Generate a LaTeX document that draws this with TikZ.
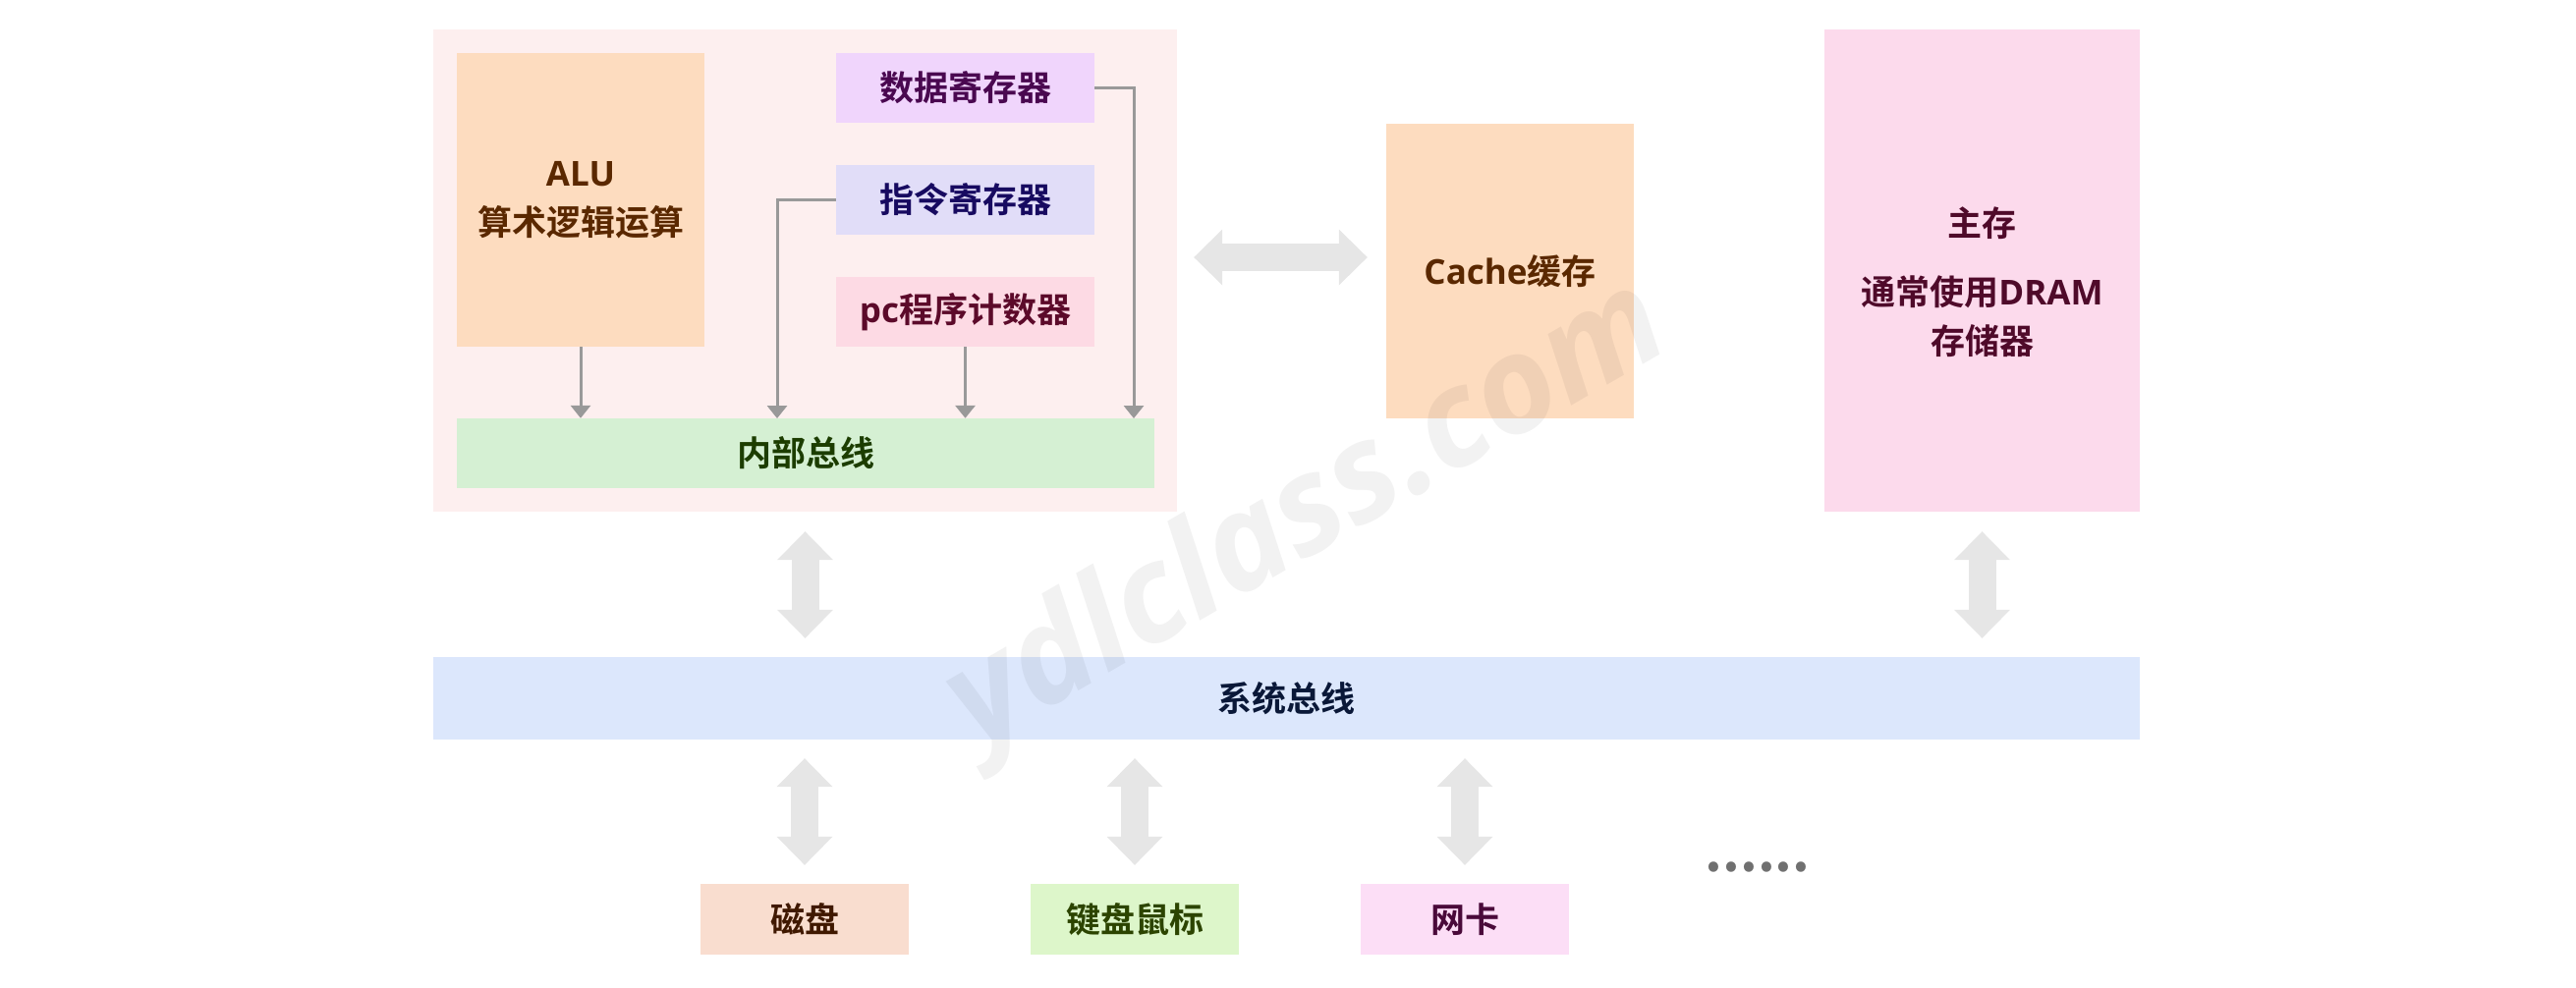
\documentclass[tikz,border=0pt]{standalone}
\usepackage{fontspec}
\usepackage{tikz}
\usepackage{xcolor}
\usetikzlibrary{arrows.meta}
\setmainfont{Noto Sans CJK SC}[BoldFont={* Bold}]
\newfontfamily\latinfont{Open Sans}
\newfontfamily\markfont{Open Sans}

\definecolor{cpucolor}{HTML}{FDEFEF}
\definecolor{alucolor}{HTML}{FDDCBF}
\definecolor{datacolor}{HTML}{F0D5FC}
\definecolor{instcolor}{HTML}{E1DDF8}
\definecolor{pccolor}{HTML}{FDDAE4}
\definecolor{inbuscolor}{HTML}{D5F0D3}
\definecolor{memcolor}{HTML}{FCDAEC}
\definecolor{sysbuscolor}{HTML}{DCE7FC}
\definecolor{diskcolor}{HTML}{F9DDCF}
\definecolor{kbdcolor}{HTML}{DDF6CA}
\definecolor{niccolor}{HTML}{FCDEF6}
\definecolor{brownink}{HTML}{5A2800}
\definecolor{purpleink}{HTML}{4A0850}
\definecolor{navyink}{HTML}{170A60}
\definecolor{maroonink}{HTML}{5C0A2A}
\definecolor{greenink}{HTML}{1C3D00}
\definecolor{memink}{HTML}{4F0A2A}
\definecolor{busink}{HTML}{0A1838}
\definecolor{diskink}{HTML}{401800}
\definecolor{kbdink}{HTML}{2C4400}
\definecolor{nicink}{HTML}{4A0A3A}
\definecolor{wirecolor}{HTML}{999999}
\definecolor{fatcolor}{HTML}{E6E6E6}
\definecolor{dotcolor}{HTML}{707070}

\newcommand{\regw}{263pt}
\newcommand{\regh}{71pt}
\newcommand{\devw}{212pt}
\newcommand{\devh}{72pt}
\newcommand{\gap}{20pt}
\newcommand{\lat}[1]{{\latinfont\bfseries #1}}

\begin{document}
\begin{tikzpicture}[x=1pt, y=-1pt,
    box/.style={inner sep=0pt, align=center, font=\bfseries\fontsize{35}{50}\selectfont},
    wire/.style={draw=wirecolor, line width=3pt, -{Triangle[width=20pt,length=13pt]}},
    fatarrow/.style={draw=fatcolor, line width=28pt,
        {Triangle[width=57pt,length=29pt,line width=0pt]}-{Triangle[width=57pt,length=29pt,line width=0pt]}}]
        \useasboundingbox (0, 0) rectangle (2622, 1005);

        % boxes
        \node [box, fill=cpucolor, minimum width=757pt, minimum height=491pt] (cpu) at (819.5, 275.5) {};
        \node [box, fill=alucolor, text=brownink, minimum width=252pt, minimum height=299pt] (alu) at (591, 203.5) {\lat{ALU}\\算术逻辑运算};
        \node [box, fill=datacolor, text=purpleink, minimum width=\regw, minimum height=\regh] (datareg) at (982.5, 89.5) {数据寄存器};
        \node [box, fill=instcolor, text=navyink, minimum width=\regw, minimum height=\regh] (instreg) at (982.5, 203.5) {指令寄存器};
        \node [box, fill=pccolor, text=maroonink, minimum width=\regw, minimum height=\regh] (pcreg) at (982.5, 317.5) {\lat{pc}程序计数器};
        \node [box, fill=inbuscolor, text=greenink, minimum width=710pt, minimum height=\regh] (inbus) at (820, 461.5) {内部总线};
        \node [box, fill=alucolor, text=brownink, minimum width=252pt, minimum height=300pt] (cache) at (1537, 276) {\lat{Cache}缓存};
        \node [box, fill=memcolor, minimum width=321pt, minimum height=491pt] (mem) at (2017.5, 275.5) {};
        \node [box, fill=sysbuscolor, text=busink, minimum width=1737pt, minimum height=84pt] (sysbus) at (1309.5, 711) {系统总线};
        \node [box, fill=diskcolor, text=diskink, minimum width=\devw, minimum height=\devh] (disk) at (819, 936) {磁盘};
        \node [box, fill=kbdcolor, text=kbdink, minimum width=\devw, minimum height=\devh] (kbd) at (1155, 936) {键盘鼠标};
        \node [box, fill=niccolor, text=nicink, minimum width=\devw, minimum height=\devh] (nic) at (1491, 936) {网卡};

        % labels
        \node [box, text=memink] (memtext) at ([yshift=-11.5pt]mem.center) {主存\\[20pt]通常使用\lat{DRAM}\\存储器};
        \node [box, text=dotcolor, font=\bfseries\fontsize{55}{55}\selectfont] (more) at (1789, 883) {......};

        % inner wires
        \coordinate (instdrop) at (791, 426);
        \coordinate (datadrop) at (1154, 426);
        \draw[wire] (alu.south) -- (alu.south |- inbus.north);
        \draw[wire] (instreg.west) -| (instdrop);
        \draw[wire] (pcreg.south) -- (pcreg.south |- inbus.north);
        \draw[wire] (datareg.east) -| (datadrop);

        % bus arrows
        \coordinate (cpuout) at ([yshift=-\gap]cpu.south);
        \coordinate (memout) at ([yshift=-\gap]mem.south);
        \coordinate (bustop) at ([yshift=19pt]sysbus.north);
        \coordinate (busbot) at ([yshift=-19pt]sysbus.south);
        \coordinate (cpuside) at ([xshift=17pt, yshift=13.5pt]cpu.east);
        \coordinate (cacheside) at ([xshift=-19pt, yshift=14pt]cache.west);
        \draw[fatarrow] (cpuside) -- (cacheside);
        \draw[fatarrow] (cpuout) -- (cpuout |- bustop);
        \draw[fatarrow] (memout) -- (memout |- bustop);
        \draw[fatarrow] (disk.north |- busbot) -- ([yshift=19pt]disk.north);
        \draw[fatarrow] (kbd.north |- busbot) -- ([yshift=19pt]kbd.north);
        \draw[fatarrow] (nic.north |- busbot) -- ([yshift=19pt]nic.north);

        % watermark
        \node [text=black, text opacity=0.05, rotate=30, font=\markfont\bfseries\itshape\fontsize{137}{137}\selectfont] (mark) at (1332, 527) {ydlclass.com};
    \end{tikzpicture}
\end{document}
